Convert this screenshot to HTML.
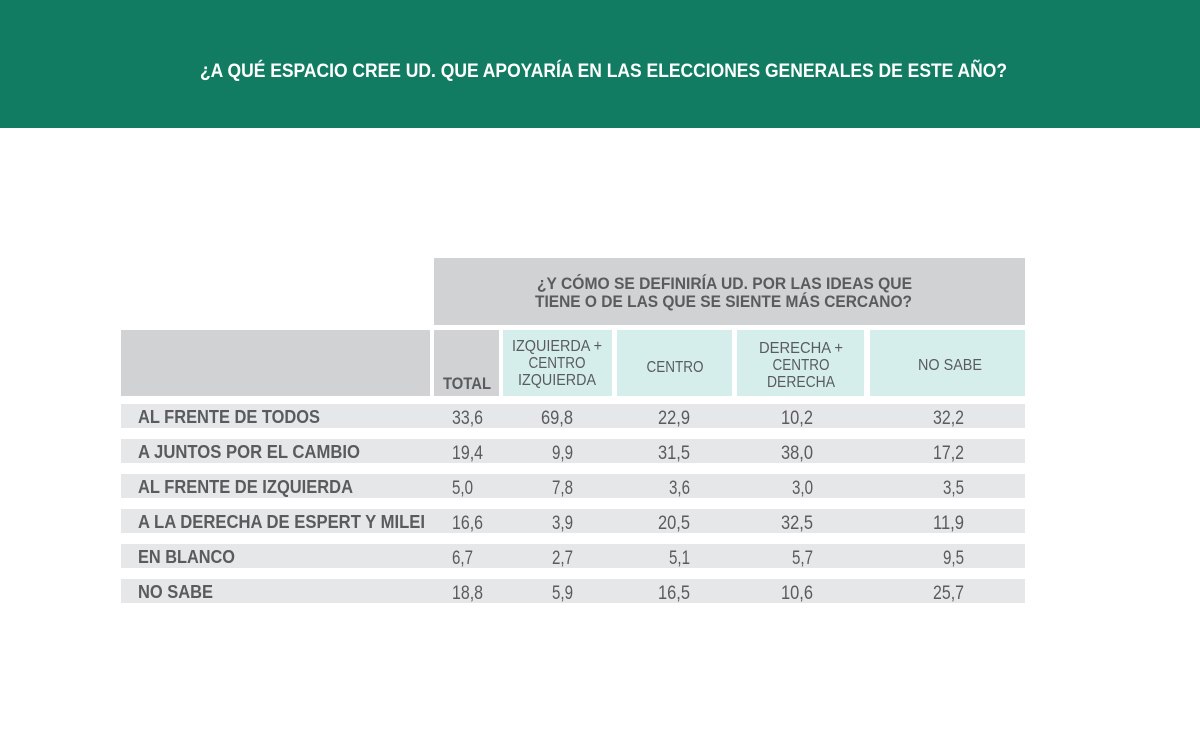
<!DOCTYPE html>
<html><head><meta charset="utf-8"><style>
html,body{margin:0;padding:0;background:#fff;}
svg{display:block;}
text{font-family:"Liberation Sans Narrow","Liberation Sans",sans-serif;fill:#5a5b5d;}
.b{font-weight:bold;}
</style></head><body>
<svg width="1200" height="750" viewBox="0 0 1200 750" xmlns="http://www.w3.org/2000/svg">
<rect x="0" y="0" width="1200" height="128" fill="#127c62"/>
<text x="200" y="77" class="b" font-size="19" style="fill:#fff" textLength="807" lengthAdjust="spacingAndGlyphs">¿A QUÉ ESPACIO CREE UD. QUE APOYARÍA EN LAS ELECCIONES GENERALES DE ESTE AÑO?</text>

<rect x="434" y="258" width="591" height="67" fill="#d1d2d4"/>
<text x="537" y="289" class="b" font-size="17" textLength="375" lengthAdjust="spacingAndGlyphs">¿Y CÓMO SE DEFINIRÍA UD. POR LAS IDEAS QUE</text>
<text x="535" y="307" class="b" font-size="17" textLength="377" lengthAdjust="spacingAndGlyphs">TIENE O DE LAS QUE SE SIENTE MÁS CERCANO?</text>

<rect x="121" y="330" width="309" height="66" fill="#d1d2d4"/>
<rect x="434" y="330" width="65" height="66" fill="#d1d2d4"/>
<rect x="503" y="330" width="109" height="66" fill="#d5eeec"/>
<rect x="617" y="330" width="115" height="66" fill="#d5eeec"/>
<rect x="737" y="330" width="127" height="66" fill="#d5eeec"/>
<rect x="870" y="330" width="155" height="66" fill="#d5eeec"/>

<text x="443" y="389" class="b" font-size="17" textLength="48" lengthAdjust="spacingAndGlyphs">TOTAL</text>
<g font-size="16" text-anchor="middle">
<text x="557" y="351" textLength="90" lengthAdjust="spacingAndGlyphs">IZQUIERDA +</text>
<text x="557" y="368" textLength="57" lengthAdjust="spacingAndGlyphs">CENTRO</text>
<text x="557" y="385" textLength="78" lengthAdjust="spacingAndGlyphs">IZQUIERDA</text>
<text x="675" y="372" textLength="57" lengthAdjust="spacingAndGlyphs">CENTRO</text>
<text x="801" y="353" textLength="84" lengthAdjust="spacingAndGlyphs">DERECHA +</text>
<text x="801" y="370" textLength="57" lengthAdjust="spacingAndGlyphs">CENTRO</text>
<text x="801" y="387" textLength="68" lengthAdjust="spacingAndGlyphs">DERECHA</text>
<text x="950" y="370" textLength="64" lengthAdjust="spacingAndGlyphs">NO SABE</text>
</g>

<g fill="#e6e7e8">
<rect x="121" y="404" width="904" height="24"/>
<rect x="121" y="439" width="904" height="24"/>
<rect x="121" y="474" width="904" height="24"/>
<rect x="121" y="509" width="904" height="24"/>
<rect x="121" y="544" width="904" height="24"/>
<rect x="121" y="579" width="904" height="24"/>
</g>

<g font-size="18" class="b">
<text x="138" y="423" textLength="182" lengthAdjust="spacingAndGlyphs">AL FRENTE DE TODOS</text>
<text x="138" y="458" textLength="222" lengthAdjust="spacingAndGlyphs">A JUNTOS POR EL CAMBIO</text>
<text x="138" y="493" textLength="215" lengthAdjust="spacingAndGlyphs">AL FRENTE DE IZQUIERDA</text>
<text x="138" y="528" textLength="287" lengthAdjust="spacingAndGlyphs">A LA DERECHA DE ESPERT Y MILEI</text>
<text x="138" y="563" textLength="97" lengthAdjust="spacingAndGlyphs">EN BLANCO</text>
<text x="138" y="598" textLength="75" lengthAdjust="spacingAndGlyphs">NO SABE</text>
</g>

<g font-size="19">
<text x="452" y="424" textLength="31" lengthAdjust="spacingAndGlyphs">33,6</text><text x="452" y="459" textLength="31" lengthAdjust="spacingAndGlyphs">19,4</text><text x="452" y="494" textLength="21" lengthAdjust="spacingAndGlyphs">5,0</text><text x="452" y="529" textLength="31" lengthAdjust="spacingAndGlyphs">16,6</text><text x="452" y="564" textLength="21" lengthAdjust="spacingAndGlyphs">6,7</text><text x="452" y="599" textLength="31" lengthAdjust="spacingAndGlyphs">18,8</text>
</g>
<g font-size="19" text-anchor="end">
<text x="573" y="424" textLength="32" lengthAdjust="spacingAndGlyphs">69,8</text><text x="573" y="459" textLength="21" lengthAdjust="spacingAndGlyphs">9,9</text><text x="573" y="494" textLength="21" lengthAdjust="spacingAndGlyphs">7,8</text><text x="573" y="529" textLength="21" lengthAdjust="spacingAndGlyphs">3,9</text><text x="573" y="564" textLength="21" lengthAdjust="spacingAndGlyphs">2,7</text><text x="573" y="599" textLength="21" lengthAdjust="spacingAndGlyphs">5,9</text>
<text x="690" y="424" textLength="32" lengthAdjust="spacingAndGlyphs">22,9</text><text x="690" y="459" textLength="32" lengthAdjust="spacingAndGlyphs">31,5</text><text x="690" y="494" textLength="21" lengthAdjust="spacingAndGlyphs">3,6</text><text x="690" y="529" textLength="32" lengthAdjust="spacingAndGlyphs">20,5</text><text x="690" y="564" textLength="21" lengthAdjust="spacingAndGlyphs">5,1</text><text x="690" y="599" textLength="32" lengthAdjust="spacingAndGlyphs">16,5</text>
<text x="813" y="424" textLength="32" lengthAdjust="spacingAndGlyphs">10,2</text><text x="813" y="459" textLength="32" lengthAdjust="spacingAndGlyphs">38,0</text><text x="813" y="494" textLength="21" lengthAdjust="spacingAndGlyphs">3,0</text><text x="813" y="529" textLength="32" lengthAdjust="spacingAndGlyphs">32,5</text><text x="813" y="564" textLength="21" lengthAdjust="spacingAndGlyphs">5,7</text><text x="813" y="599" textLength="32" lengthAdjust="spacingAndGlyphs">10,6</text>
<text x="964" y="424" textLength="31" lengthAdjust="spacingAndGlyphs">32,2</text><text x="964" y="459" textLength="31" lengthAdjust="spacingAndGlyphs">17,2</text><text x="964" y="494" textLength="21" lengthAdjust="spacingAndGlyphs">3,5</text><text x="964" y="529" textLength="31" lengthAdjust="spacingAndGlyphs">11,9</text><text x="964" y="564" textLength="21" lengthAdjust="spacingAndGlyphs">9,5</text><text x="964" y="599" textLength="31" lengthAdjust="spacingAndGlyphs">25,7</text>
</g>
</svg>
</body></html>
